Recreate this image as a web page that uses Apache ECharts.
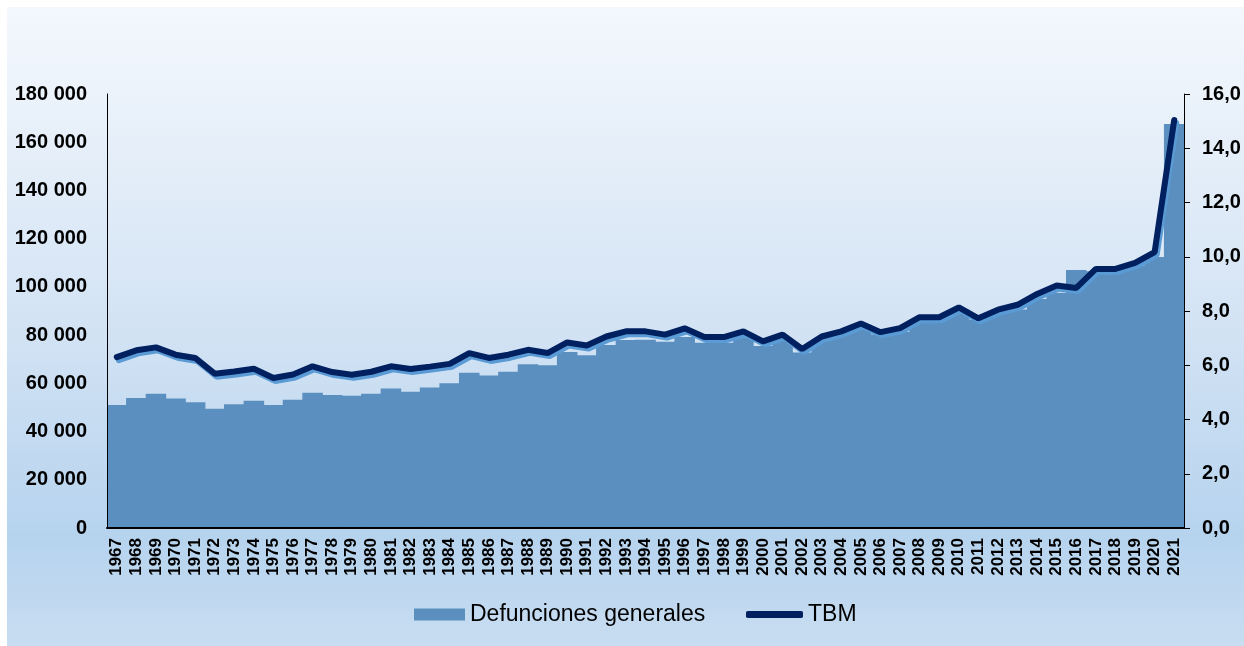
<!DOCTYPE html>
<html>
<head>
<meta charset="utf-8">
<script src="https://cdn.jsdelivr.net/npm/echarts@6/dist/echarts.min.js"></script>
<style>
html,body{margin:0;padding:0;background:#fff;}
#chart{width:1244px;height:646px;}
</style>
</head>
<body>
<div id="chart"></div>
<script>
const years = ['1967','1968','1969','1970','1971','1972','1973','1974','1975','1976','1977','1978','1979','1980','1981','1982','1983','1984','1985','1986','1987','1988','1989','1990','1991','1992','1993','1994','1995','1996','1997','1998','1999','2000','2001','2002','2003','2004','2005','2006','2007','2008','2009','2010','2011','2012','2013','2014','2015','2016','2017','2018','2019','2020','2021'];
const defunciones = [51000,53900,55700,53700,52200,49500,51300,52800,51000,53200,56100,55200,54900,55700,57900,56500,58300,60000,64400,63200,64800,67900,67500,73000,71600,75900,78000,78100,77200,79200,76800,76800,79000,75500,77600,72800,77600,80600,84300,80300,81400,85900,86400,90600,86500,88900,90600,95000,97600,107000,106500,106500,108700,112400,167600];
const tbm = [6.3,6.55,6.66,6.39,6.27,5.69,5.77,5.87,5.53,5.66,5.96,5.75,5.65,5.76,5.96,5.86,5.95,6.05,6.45,6.27,6.39,6.57,6.45,6.84,6.73,7.06,7.25,7.25,7.13,7.36,7.04,7.04,7.25,6.88,7.13,6.6,7.06,7.25,7.54,7.22,7.37,7.77,7.77,8.13,7.73,8.05,8.23,8.63,8.94,8.85,9.55,9.55,9.77,10.17,15.04];
const leftTicks = {min:0, max:180000, interval:20000};
const rightTicks = {min:0, max:16, interval:2};

const FONT = '"Liberation Sans", Arial, sans-serif';
const BAR = '#5B8FC0';
const chart = echarts.init(document.getElementById('chart'), null, {renderer:'canvas'});
chart.setOption({
  animation:false,
  backgroundColor:'#ffffff',
  graphic:[{
    type:'rect', z:-10, silent:true,
    shape:{x:7,y:7,width:1237,height:639},
    style:{fill:new echarts.graphic.LinearGradient(0,0,0,1,[
      {offset:0,color:'#F4F8FD'},
      {offset:0.5,color:'#D3E3F4'},
      {offset:0.83,color:'#B6D3EE'},
      {offset:1,color:'#C8DDF1'}
    ])}
  }],
  grid:{left:107,right:60,top:94,bottom:118,containLabel:false},
  legend:[{
    data:[{name:'Defunciones generales',icon:'rect'}],
    left:409, top:598, itemWidth:51, itemHeight:12,
    textStyle:{fontFamily:FONT,fontSize:23,color:'#000'}
  },{
    data:[{name:'TBM',icon:'roundRect'}],
    left:741, top:598, itemWidth:57, itemHeight:7,
    textStyle:{fontFamily:FONT,fontSize:23,color:'#000'}
  }],
  xAxis:{
    type:'category', data:years, boundaryGap:true, z:5,
    axisLine:{lineStyle:{color:'#000',width:2}},
    axisTick:{show:false},
    axisLabel:{interval:0,rotate:90,margin:10,fontFamily:FONT,fontWeight:'bold',fontSize:17,color:'#000'}
  },
  yAxis:[{
    type:'value', min:leftTicks.min, max:leftTicks.max, interval:leftTicks.interval, z:5,
    axisLine:{show:true,lineStyle:{color:'#000',width:1}},
    axisTick:{show:false},
    splitLine:{show:false},
    axisLabel:{margin:20,fontFamily:FONT,fontWeight:'bold',fontSize:20,color:'#000',
      formatter:v=>String(v).replace(/\B(?=(\d{3})+(?!\d))/g,' ')}
  },{
    type:'value', position:'right', min:rightTicks.min, max:rightTicks.max, interval:rightTicks.interval, z:5,
    axisLine:{show:true,lineStyle:{color:'#000',width:1}},
    axisTick:{show:true,inside:false,length:6,lineStyle:{color:'#000'}},
    splitLine:{show:false},
    axisLabel:{margin:18,fontFamily:FONT,fontWeight:'bold',fontSize:20,color:'#000',
      formatter:v=>v.toFixed(1).replace('.',',')}
  }],
  series:[{
    name:'Defunciones generales', type:'bar', yAxisIndex:0, data:defunciones,
    barWidth:'105%', itemStyle:{color:BAR}
  },{
    name:'TBM', type:'line', yAxisIndex:1, data:tbm, symbol:'none', z:6,
    itemStyle:{color:'#002060'},
    lineStyle:{color:'#002060',width:6,cap:'round',
      shadowColor:'#5B9BD5',shadowBlur:0,shadowOffsetX:2,shadowOffsetY:3}
  }]
});
</script>
</body>
</html>
